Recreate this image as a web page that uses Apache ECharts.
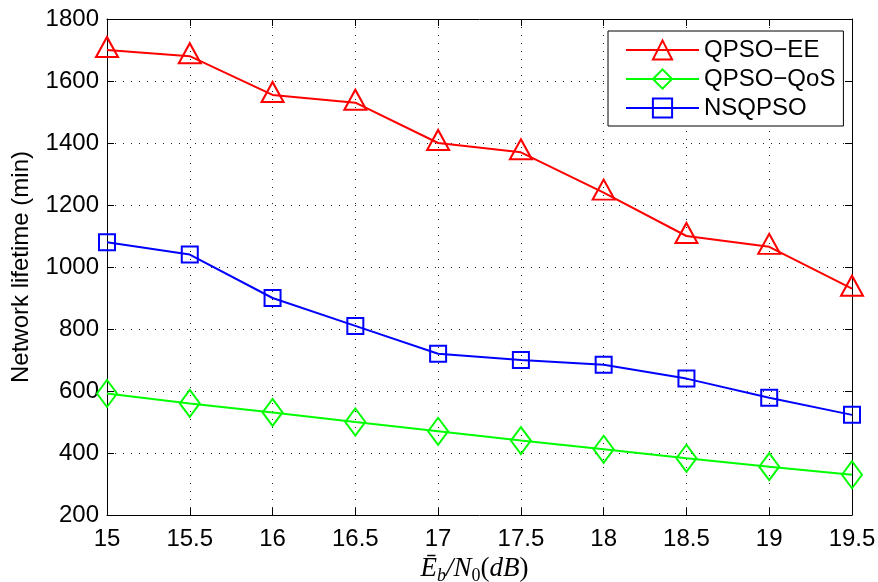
<!DOCTYPE html>
<html>
<head>
<meta charset="utf-8">
<script src="https://cdn.jsdelivr.net/npm/echarts@6/dist/echarts.min.js"></script>
<style>
  html, body { margin: 0; padding: 0; background: #fff; }
  #chart { width: 878px; height: 582px; }
</style>
</head>
<body>
<div id="chart"></div>
<script>
// Eb/N0 (dB) sample points
const snrDb = [15, 15.5, 16, 16.5, 17, 17.5, 18, 18.5, 19, 19.5];

// Network lifetime (min) per scheme
const qpsoEE  = [1700, 1680, 1555, 1530, 1400, 1370, 1240, 1100, 1065, 930];
const qpsoQoS = [592, 560, 531, 500, 470, 440, 412, 383, 356, 330];
const nsqpso  = [1080, 1040, 900, 810, 720, 700, 685, 640, 578, 523];

const seriesNames = ['QPSO\u2212EE', 'QPSO\u2212QoS', 'NSQPSO'];
const yTicks = { min: 200, max: 1800, step: 200 };
const xTicks = { min: 15, max: 19.5, step: 0.5 };

const FONT = 'Liberation Sans, Arial, Helvetica, sans-serif';
const SERIF = 'Liberation Serif, Times New Roman, serif';

function pairs(ys) {
  return snrDb.map((x, i) => [x, ys[i]]);
}

function makeSeries(name, ys, color, symbol, size, offset) {
  return {
    name: name,
    type: 'line',
    data: pairs(ys),
    symbol: symbol,
    symbolSize: size,
    symbolOffset: offset || [0, 0],
    showSymbol: true,
    color: color,
    lineStyle: { color: color, width: 2 },
    itemStyle: { color: 'transparent', borderColor: color, borderWidth: 2 },
    emphasis: { disabled: true },
    z: 3
  };
}

const dotted = { color: '#222', width: 1, type: [1, 7] };
const frame = { color: '#000', width: 1 };
const innerTick = { show: true, inside: true, length: 7, lineStyle: frame };

const chart = echarts.init(document.getElementById('chart'), null, { renderer: 'canvas' });

chart.setOption({
  animation: false,
  backgroundColor: '#fff',
  grid: { left: 107, right: 26, top: 19, bottom: 67, containLabel: false, outerBoundsMode: 'none' },
  legend: {
    orient: 'vertical',
    left: 608,
    top: 31,
    padding: [7, 8, 6, 17],
    itemGap: 5,
    itemWidth: 73,
    itemHeight: 24,
    borderColor: '#000',
    borderWidth: 1,
    backgroundColor: '#fff',
    textStyle: { fontSize: 24, lineHeight: 24, fontFamily: FONT, color: '#000' },
    data: seriesNames
  },
  xAxis: [
    {
      type: 'value',
      min: xTicks.min, max: xTicks.max, interval: xTicks.step,
      position: 'bottom',
      name: '{e|\u0112}{s|b}{n|/N}{z|0}{u|(}{n|dB}{u|)}',
      nameLocation: 'middle',
      nameGap: 35,
      nameTextStyle: {
        padding: [0, 10, 0, 0],
        rich: {
          e: { fontFamily: SERIF, fontStyle: 'italic', fontSize: 27, color: '#000', lineHeight: 32, verticalAlign: 'middle' },
          n: { fontFamily: SERIF, fontStyle: 'italic', fontSize: 27, color: '#000', lineHeight: 32, verticalAlign: 'middle' },
          u: { fontFamily: SERIF, fontSize: 27, color: '#000', lineHeight: 32, verticalAlign: 'middle' },
          s: { fontFamily: SERIF, fontStyle: 'italic', fontSize: 18, color: '#000', lineHeight: 18, verticalAlign: 'bottom' },
          z: { fontFamily: SERIF, fontSize: 18, color: '#000', lineHeight: 18, verticalAlign: 'bottom' }
        }
      },
      axisLine: { show: true, onZero: false, lineStyle: frame },
      axisTick: innerTick,
      axisLabel: {
        fontSize: 24, fontFamily: FONT, color: '#000', margin: 12,
        formatter: v => String(v)
      },
      splitLine: { show: true, lineStyle: dotted }
    },
    {
      type: 'value',
      min: xTicks.min, max: xTicks.max, interval: xTicks.step,
      position: 'top',
      axisLine: { show: true, onZero: false, lineStyle: frame },
      axisTick: innerTick,
      axisLabel: { show: false },
      splitLine: { show: false }
    }
  ],
  yAxis: [
    {
      type: 'value',
      min: yTicks.min, max: yTicks.max, interval: yTicks.step,
      position: 'left',
      name: 'Network lifetime (min)',
      nameLocation: 'middle',
      nameRotate: 90,
      nameGap: 74,
      nameTextStyle: { fontSize: 24, fontFamily: FONT, color: '#000' },
      axisLine: { show: true, onZero: false, lineStyle: frame },
      axisTick: innerTick,
      axisLabel: { fontSize: 24, fontFamily: FONT, color: '#000', margin: 8, formatter: v => String(v) },
      splitLine: { show: true, lineStyle: dotted }
    },
    {
      type: 'value',
      min: yTicks.min, max: yTicks.max, interval: yTicks.step,
      position: 'right',
      axisLine: { show: true, onZero: false, lineStyle: frame },
      axisTick: innerTick,
      axisLabel: { show: false },
      splitLine: { show: false }
    }
  ],
  series: [
    makeSeries(seriesNames[0], qpsoEE, '#ff0000', 'triangle', [22, 20], [0, -3]),
    makeSeries(seriesNames[1], qpsoQoS, '#00ff00', 'diamond', [20, 27]),
    makeSeries(seriesNames[2], nsqpso, '#0000ff', 'rect', [16, 16])
  ]
});
</script>
</body>
</html>
